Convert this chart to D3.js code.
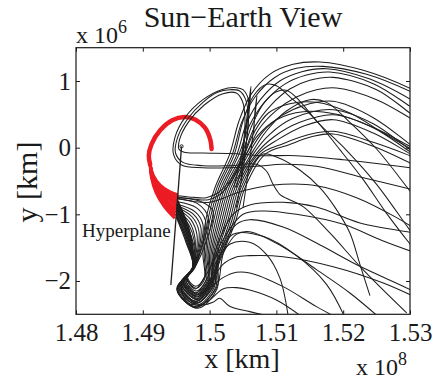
<!DOCTYPE html>
<html>
<head>
<meta charset="utf-8">
<script src="https://cdn.jsdelivr.net/npm/d3@7"></script>
<style>
  body { margin: 0; background: #fff; }
  text { font-family: "Liberation Serif", "Times New Roman", serif; fill: #1a1a1a; }
</style>
</head>
<body>
<div id="chart"></div>
<script>
// axis values: x in 1e8 km, y in 1e6 km
const xTicks = [1.48, 1.49, 1.50, 1.51, 1.52, 1.53];
const xTickLabels = ['1.48', '1.49', '1.5', '1.51', '1.52', '1.53'];
const yTicks = [-2, -1, 0, 1];
const yTickLabels = ['\u22122', '\u22121', '0', '1'];

const earthPoint = [1.4958, 0.02];
const hyperplane = [[1.4958, 0.02], [1.4942, -2.06]];

// red stable manifold: spiral part + fan reaching the hyperplane
const redSpiral = [[1.5003, -0.02], [1.5001, 0.12], [1.4993, 0.30], [1.4979, 0.42], [1.4962, 0.46],
  [1.4944, 0.41], [1.4926, 0.26], [1.4913, 0.05], [1.4909, -0.12], [1.4911, -0.25]];
const redFan = [
  [[1.4911, -0.25], [1.4913, -0.45], [1.4920, -0.68], [1.4932, -0.88], [1.4948, -1.06]],
  [[1.4911, -0.25], [1.4914, -0.45], [1.4921, -0.67], [1.4933, -0.86], [1.4949, -1.02]],
  [[1.4911, -0.25], [1.4914, -0.45], [1.4921, -0.66], [1.4934, -0.84], [1.4949, -0.98]],
  [[1.4911, -0.25], [1.4914, -0.44], [1.4922, -0.65], [1.4935, -0.82], [1.4950, -0.94]],
  [[1.4911, -0.25], [1.4914, -0.44], [1.4922, -0.64], [1.4936, -0.80], [1.4950, -0.91]],
  [[1.4911, -0.25], [1.4915, -0.44], [1.4923, -0.62], [1.4938, -0.77], [1.4951, -0.87]],
  [[1.4911, -0.25], [1.4915, -0.43], [1.4924, -0.61], [1.4939, -0.74], [1.4952, -0.83]],
  [[1.4911, -0.25], [1.4915, -0.43], [1.4924, -0.60], [1.4940, -0.71], [1.4952, -0.79]],
  [[1.4911, -0.25], [1.4915, -0.42], [1.4925, -0.58], [1.4940, -0.68], [1.4953, -0.75]],
  [[1.4911, -0.25], [1.4916, -0.42], [1.4926, -0.56], [1.4940, -0.66], [1.4953, -0.71]]
];

// black trajectories: hyperplane -> loop -> up-right bundle -> arches
const archTrajectories = [
  [[1.4952, -0.78], [1.4971, -1.28], [1.4975, -1.78], [1.4967, -1.95], [1.4979, -2.08], [1.4992, -1.95], [1.4990, -1.60], [1.4994, -1.10], [1.5008, -0.60], [1.5030, -0.10], [1.5044, 0.40], [1.5062, 0.80], [1.5090, 1.10], [1.5125, 1.25], [1.5165, 1.285], [1.5230, 1.16], [1.5300, 0.89], [1.5320, 0.78]],
  [[1.4952, -0.80], [1.4971, -1.29], [1.4975, -1.78], [1.4966, -1.96], [1.4980, -2.11], [1.4993, -1.96], [1.4992, -1.60], [1.4997, -1.10], [1.5011, -0.60], [1.5034, -0.10], [1.5048, 0.38], [1.5068, 0.76], [1.5097, 1.05], [1.5130, 1.19], [1.5170, 1.22], [1.5235, 1.10], [1.5300, 0.845], [1.5320, 0.74]],
  [[1.4952, -0.83], [1.4970, -1.31], [1.4975, -1.79], [1.4962, -1.99], [1.4979, -2.18], [1.4997, -1.99], [1.4996, -1.60], [1.5003, -1.10], [1.5017, -0.60], [1.5041, -0.10], [1.5055, 0.36], [1.5076, 0.72], [1.5105, 1.00], [1.5138, 1.14], [1.5175, 1.185], [1.5240, 1.03], [1.5300, 0.73], [1.5320, 0.60]],
  [[1.4951, -0.85], [1.4970, -1.32], [1.4975, -1.79], [1.4961, -2.01], [1.4980, -2.21], [1.4998, -2.01], [1.4998, -1.60], [1.5006, -1.10], [1.5020, -0.60], [1.5044, -0.10], [1.5060, 0.34], [1.5082, 0.68], [1.5112, 0.95], [1.5145, 1.09], [1.5180, 1.135], [1.5245, 0.96], [1.5300, 0.62], [1.5320, 0.48]],
  [[1.4951, -0.88], [1.4969, -1.34], [1.4975, -1.79], [1.4958, -2.04], [1.4980, -2.27], [1.5001, -2.04], [1.5002, -1.60], [1.5012, -1.10], [1.5026, -0.60], [1.5051, -0.10], [1.5068, 0.32], [1.5092, 0.64], [1.5120, 0.88], [1.5150, 1.01], [1.5185, 1.055], [1.5250, 0.87], [1.5300, 0.52], [1.5320, 0.38]],
  [[1.4951, -0.90], [1.4969, -1.35], [1.4975, -1.79], [1.4956, -2.05], [1.4979, -2.30], [1.5003, -2.05], [1.5004, -1.60], [1.5015, -1.10], [1.5029, -0.60], [1.5055, -0.10], [1.5074, 0.28], [1.5100, 0.56], [1.5130, 0.76], [1.5160, 0.87], [1.5190, 0.895], [1.5250, 0.72], [1.5300, 0.445], [1.5320, 0.32]],
  [[1.4951, -0.91], [1.4968, -1.36], [1.4975, -1.79], [1.4955, -2.07], [1.4980, -2.33], [1.5005, -2.07], [1.5006, -1.60], [1.5018, -1.10], [1.5032, -0.60], [1.5058, -0.10], [1.5080, 0.24], [1.5108, 0.48], [1.5140, 0.63], [1.5185, 0.695], [1.5245, 0.45], [1.5300, 0.05], [1.5320, -0.10]],
  [[1.4951, -0.95], [1.4968, -1.38], [1.4975, -1.80], [1.4952, -2.10], [1.4980, -2.39], [1.5009, -2.10], [1.5010, -1.60], [1.5024, -1.10], [1.5038, -0.60], [1.5065, -0.10], [1.5090, 0.20], [1.5125, 0.44], [1.5185, 0.57], [1.5245, 0.36], [1.5300, -0.03], [1.5320, -0.16]],
  [[1.4950, -0.96], [1.4967, -1.39], [1.4975, -1.80], [1.4951, -2.13], [1.4982, -2.41], [1.5011, -2.12], [1.5012, -1.60], [1.5027, -1.10], [1.5041, -0.60], [1.5069, -0.10], [1.5096, 0.16], [1.5135, 0.38], [1.5185, 0.495], [1.5245, 0.30], [1.5300, -0.06], [1.5320, -0.18]],
  [[1.4950, -0.98], [1.4967, -1.40], [1.4975, -1.80], [1.4957, -2.03], [1.4982, -2.28], [1.5002, -2.03], [1.5014, -1.60], [1.5030, -1.10], [1.5044, -0.60], [1.5072, -0.10], [1.5102, 0.12], [1.5142, 0.33], [1.5185, 0.42], [1.5245, 0.22], [1.5300, -0.09], [1.5320, -0.20]],
  [[1.4950, -1.00], [1.4966, -1.41], [1.4975, -1.80], [1.4954, -2.08], [1.4978, -2.34], [1.5006, -2.08], [1.5016, -1.60], [1.5033, -1.10], [1.5047, -0.60], [1.5076, -0.10], [1.5110, 0.06], [1.5150, 0.20], [1.5185, 0.245], [1.5245, 0.08], [1.5300, -0.12], [1.5320, -0.20]],
  [[1.4950, -1.04], [1.4965, -1.43], [1.4975, -1.80], [1.4951, -2.11], [1.4979, -2.40], [1.5010, -2.11], [1.5020, -1.60], [1.5039, -1.10], [1.5053, -0.60], [1.5083, -0.10], [1.5118, 0.04], [1.5155, 0.17], [1.5185, 0.205], [1.5245, 0.02], [1.5300, -0.23], [1.5320, -0.33]]
];

// trajectories that peak early and fall steeply to the lower right
const steepTrajectories = [
  [[1.4952, -0.81], [1.4970, -1.30], [1.4975, -1.78], [1.4964, -1.98], [1.4980, -2.15], [1.4995, -1.98], [1.4994, -1.60], [1.5000, -1.10], [1.5014, -0.60], [1.5037, -0.10], [1.5050, 0.40], [1.5066, 0.78], [1.5085, 0.95], [1.5100, 0.93], [1.5125, 0.72], [1.5155, 0.46], [1.5195, -0.03], [1.5230, -0.48], [1.5266, -1.00], [1.5320, -1.70]],
  [[1.4951, -0.86], [1.4969, -1.33], [1.4975, -1.79], [1.4959, -2.02], [1.4981, -2.24], [1.4999, -2.02], [1.5000, -1.60], [1.5009, -1.10], [1.5023, -0.60], [1.5048, -0.10], [1.5064, 0.35], [1.5082, 0.68], [1.5100, 0.84], [1.5115, 0.86], [1.5135, 0.70], [1.5160, 0.40], [1.5205, -0.04], [1.5250, -0.55], [1.5300, -1.24], [1.5320, -1.50]],
  [[1.4951, -0.93], [1.4968, -1.37], [1.4975, -1.80], [1.4953, -2.09], [1.4981, -2.36], [1.5007, -2.09], [1.5008, -1.60], [1.5021, -1.10], [1.5035, -0.60], [1.5062, -0.10], [1.5085, 0.25], [1.5115, 0.55], [1.5150, 0.72], [1.5175, 0.68], [1.5210, 0.38], [1.5250, -0.02], [1.5300, -0.65], [1.5320, -0.90]],
  [[1.4950, -1.02], [1.4966, -1.42], [1.4975, -1.80], [1.4960, -2.00], [1.4978, -2.22], [1.4999, -2.00], [1.5018, -1.60], [1.5036, -1.10], [1.5050, -0.60], [1.5079, -0.10], [1.5100, -0.14], [1.5135, -0.335], [1.5165, -0.60], [1.5188, -0.90], [1.5210, -1.28], [1.5225, -1.75], [1.5240, -2.22]]
];

// trajectories sweeping right across the fan, looping, then heading lower right
const lowTrajectories = [
  [[1.4952, -0.75], [1.4985, -0.80], [1.5005, -0.95], [1.4995, -1.40], [1.4978, -1.80], [1.4965, -2.00], [1.4983, -2.20], [1.5001, -2.00], [1.5006, -1.70], [1.5025, -1.30], [1.5050, -1.00], [1.5080, -0.95], [1.5130, -1.00], [1.5200, -1.15], [1.5260, -1.40], [1.5320, -1.62]],
  [[1.4952, -0.77], [1.4982, -0.84], [1.4998, -1.05], [1.4990, -1.45], [1.4977, -1.80], [1.4963, -2.00], [1.4979, -2.18], [1.4996, -1.97], [1.5004, -1.70], [1.5016, -1.35], [1.5035, -1.00], [1.5060, -0.86], [1.5110, -0.82], [1.5160, -0.89], [1.5225, -1.13], [1.5300, -1.27], [1.5320, -1.32]],
  [[1.4952, -0.81], [1.4980, -0.90], [1.4994, -1.10], [1.4988, -1.48], [1.4977, -1.80], [1.4966, -1.97], [1.4979, -2.12], [1.4992, -1.95], [1.5002, -1.78], [1.5020, -1.45], [1.5040, -1.15], [1.5060, -1.08], [1.5110, -1.19], [1.5160, -1.43], [1.5225, -1.78], [1.5300, -2.13], [1.5320, -2.25]],
  [[1.4951, -0.85], [1.4978, -0.96], [1.4990, -1.15], [1.4986, -1.50], [1.4976, -1.80], [1.4955, -2.07], [1.4982, -2.33], [1.5004, -2.06], [1.5010, -1.85], [1.5022, -1.55], [1.5040, -1.30], [1.5060, -1.26], [1.5110, -1.49], [1.5160, -1.83], [1.5210, -2.18], [1.5260, -2.60]],
  [[1.4951, -0.87], [1.4976, -1.00], [1.4987, -1.20], [1.4984, -1.52], [1.4976, -1.80], [1.4958, -2.04], [1.4982, -2.26], [1.5000, -2.05], [1.5020, -1.75], [1.5040, -1.64], [1.5060, -1.62], [1.5110, -1.635], [1.5185, -1.785], [1.5260, -2.03], [1.5320, -2.30]],
  [[1.4951, -0.89], [1.4974, -1.04], [1.4984, -1.25], [1.4982, -1.55], [1.4976, -1.80], [1.4961, -2.01], [1.4981, -2.20], [1.5000, -2.10], [1.5020, -1.95], [1.5040, -1.87], [1.5060, -1.88], [1.5110, -2.085], [1.5160, -2.385], [1.5200, -2.60]],
  [[1.4951, -0.91], [1.4972, -1.08], [1.4981, -1.30], [1.4980, -1.58], [1.4975, -1.80], [1.4952, -2.12], [1.4975, -2.38], [1.4998, -2.30], [1.5020, -2.12], [1.5040, -2.10], [1.5060, -2.135], [1.5100, -2.285], [1.5140, -2.55]],
  [[1.4951, -0.93], [1.4970, -1.12], [1.4978, -1.35], [1.4978, -1.60], [1.4975, -1.80], [1.4958, -2.10], [1.4968, -2.33], [1.4990, -2.36], [1.5005, -2.32], [1.5015, -2.26], [1.5030, -2.38], [1.5060, -2.46], [1.5090, -2.53]],
  [[1.4951, -0.94], [1.4969, -1.16], [1.4977, -1.40], [1.4976, -1.80], [1.4960, -2.03], [1.4981, -2.23], [1.5001, -2.02], [1.5008, -1.75], [1.5030, -1.45], [1.5060, -1.42], [1.5085, -1.60], [1.5105, -1.95], [1.5118, -2.55]],
  [[1.4950, -0.97], [1.4967, -1.20], [1.4976, -1.45], [1.4976, -1.80], [1.4957, -2.06], [1.4980, -2.31], [1.5003, -2.05], [1.5012, -1.70], [1.5035, -1.30], [1.5080, -1.33], [1.5130, -1.62], [1.5175, -2.05], [1.5205, -2.60]]
];

// top of the fan: leave the hyperplane to the right without looping
const fanTopTrajectories = [
  [[1.4953, -0.72], [1.4975, -0.745], [1.4995, -0.75], [1.5012, -0.68], [1.5030, -0.50], [1.5048, -0.20], [1.5066, 0.22], [1.5088, 0.52], [1.5120, 0.66], [1.5160, 0.68], [1.5210, 0.52], [1.5260, 0.22], [1.5300, -0.01], [1.5320, -0.12]],
  [[1.4952, -0.74], [1.4976, -0.77], [1.4998, -0.78], [1.5016, -0.70], [1.5034, -0.48], [1.5052, -0.15], [1.5072, 0.18], [1.5100, 0.42], [1.5140, 0.54], [1.5190, 0.50], [1.5250, 0.28], [1.5300, 0.02], [1.5320, -0.08]],
  [[1.4952, -0.76], [1.4978, -0.81], [1.5000, -0.82], [1.5020, -0.76], [1.5040, -0.68], [1.5070, -0.60], [1.5110, -0.55], [1.5160, -0.57], [1.5220, -0.75], [1.5280, -1.05], [1.5320, -1.30]]
];

// loops around the Earth and the cusps above them
const upperLoops = [
  [[1.5040, -0.60], [1.5052, -0.10], [1.5058, 0.40], [1.5054, 0.72], [1.5045, 0.85], [1.5030, 0.87], [1.5012, 0.83], [1.4990, 0.68], [1.4967, 0.43], [1.4952, 0.15], [1.4949, -0.08], [1.4960, -0.22], [1.4990, -0.27], [1.5030, -0.27], [1.5070, -0.25], [1.5085, -0.35], [1.5095, -0.55], [1.5105, -0.70], [1.5115, -0.76], [1.5140, -0.885], [1.5180, -1.28], [1.5230, -1.835], [1.5295, -2.48]],
  [[1.5036, -0.60], [1.5048, -0.10], [1.5053, 0.40], [1.5049, 0.70], [1.5040, 0.82], [1.5020, 0.81], [1.4992, 0.64], [1.4968, 0.38], [1.4955, 0.12], [1.4954, -0.02], [1.4962, -0.07], [1.4990, -0.08], [1.5040, -0.09], [1.5080, -0.12], [1.5130, -0.12], [1.5200, -0.18], [1.5300, -0.30]],
  [[1.5044, -0.30], [1.5055, 0.30], [1.5058, 0.72], [1.5050, 0.87], [1.5040, 0.90], [1.5018, 0.87], [1.4990, 0.72], [1.4963, 0.45], [1.4948, 0.15], [1.4946, -0.10], [1.4958, -0.26], [1.4990, -0.30], [1.5030, -0.30], [1.5070, -0.28], [1.5110, -0.25], [1.5160, -0.28], [1.5230, -0.45], [1.5300, -0.62]],
  [[1.5040, -0.90], [1.5052, -0.20], [1.5058, 0.40], [1.5062, 0.92], [1.5059, 0.70], [1.5054, 0.30], [1.5050, -0.10], [1.5047, -0.50]],
  [[1.5050, -0.90], [1.5060, -0.20], [1.5066, 0.30], [1.5071, 0.78], [1.5068, 0.55], [1.5066, 0.20]]
];

const margin = { left: 76, right: 410, top: 47.7, bottom: 314.3 };
const width = 433, height = 382;

const x = d3.scaleLinear().domain([1.48, 1.53]).range([margin.left, margin.right]);
const y = d3.scaleLinear().domain([-2.5, 1.5]).range([margin.bottom, margin.top]);

const line = d3.line()
  .x((d) => x(d[0]))
  .y((d) => y(d[1]))
  .curve(d3.curveCatmullRom.alpha(0.5));

const svg = d3.select('#chart')
  .append('svg')
    .attr('width', width)
    .attr('height', height);

svg.append('clipPath')
    .attr('id', 'plot-clip')
  .append('rect')
    .attr('x', margin.left)
    .attr('y', margin.top)
    .attr('width', margin.right - margin.left)
    .attr('height', margin.bottom - margin.top);

const plot = svg.append('g').attr('clip-path', 'url(#plot-clip)');

// red manifold
plot.append('path')
  .datum(redSpiral)
  .attr('fill', 'none')
  .attr('stroke', '#ec1c24')
  .attr('stroke-width', 4.5)
  .attr('stroke-linecap', 'round')
  .attr('d', line);

plot.selectAll('.red-fan')
  .data(redFan)
  .enter().append('path')
    .attr('class', 'red-fan')
    .attr('fill', 'none')
    .attr('stroke', '#ec1c24')
    .attr('stroke-width', 3)
    .attr('d', line);

// black trajectories
const blackSets = [archTrajectories, steepTrajectories, lowTrajectories, fanTopTrajectories, upperLoops];
blackSets.forEach((set) => {
  plot.append('g')
    .selectAll('path')
    .data(set)
    .enter().append('path')
      .attr('fill', 'none')
      .attr('stroke', '#1e1e1e')
      .attr('stroke-width', 1.05)
      .attr('d', line);
});

// hyperplane
plot.append('path')
  .datum(hyperplane)
  .attr('fill', 'none')
  .attr('stroke', '#1e1e1e')
  .attr('stroke-width', 1.3)
  .attr('d', d3.line().x((d) => x(d[0])).y((d) => y(d[1])));

plot.append('circle')
  .attr('cx', x(earthPoint[0]))
  .attr('cy', y(earthPoint[1]))
  .attr('r', 1.6)
  .attr('fill', 'none')
  .attr('stroke', '#1e1e1e')
  .attr('stroke-width', 1);

// axes box with inward ticks
svg.append('rect')
  .attr('x', margin.left)
  .attr('y', margin.top)
  .attr('width', margin.right - margin.left)
  .attr('height', margin.bottom - margin.top)
  .attr('fill', 'none')
  .attr('stroke', '#1a1a1a')
  .attr('stroke-width', 1.2);

const fmtX = (d, i) => xTickLabels[i];
const fmtY = (d, i) => yTickLabels[i];

svg.append('g')
  .attr('transform', `translate(0, ${margin.bottom})`)
  .call(d3.axisBottom(x).tickValues(xTicks).tickFormat(fmtX).tickSize(-4).tickPadding(9));
svg.append('g')
  .attr('transform', `translate(0, ${margin.top})`)
  .call(d3.axisTop(x).tickValues(xTicks).tickFormat('').tickSize(-4));
svg.append('g')
  .attr('transform', `translate(${margin.left}, 0)`)
  .call(d3.axisLeft(y).tickValues(yTicks).tickFormat(fmtY).tickSize(-4).tickPadding(5));
svg.append('g')
  .attr('transform', `translate(${margin.right}, 0)`)
  .call(d3.axisRight(y).tickValues(yTicks).tickFormat('').tickSize(-4));

svg.selectAll('.domain').remove();
svg.selectAll('.tick line').attr('stroke', '#1a1a1a').attr('stroke-width', 1);
svg.selectAll('.tick text')
  .attr('font-family', '"Liberation Serif", "Times New Roman", serif')
  .attr('font-size', 25)
  .attr('fill', '#1a1a1a');

// title and labels
svg.append('text')
  .attr('x', 243)
  .attr('y', 27)
  .attr('text-anchor', 'middle')
  .attr('font-size', 30)
  .text('Sun\u2212Earth View');

svg.append('text')
  .attr('x', 242)
  .attr('y', 368)
  .attr('text-anchor', 'middle')
  .attr('font-size', 28)
  .text('x [km]');

svg.append('text')
  .attr('transform', 'translate(37, 182) rotate(-90)')
  .attr('text-anchor', 'middle')
  .attr('font-size', 30)
  .text('y [km]');

const yExp = svg.append('text').attr('x', 76).attr('y', 43).attr('font-size', 24);
yExp.append('tspan').text('x 10');
yExp.append('tspan').attr('dy', -10).attr('font-size', 18).text('6');

const xExp = svg.append('text').attr('x', 356).attr('y', 375).attr('font-size', 24);
xExp.append('tspan').text('x 10');
xExp.append('tspan').attr('dy', -10).attr('font-size', 18).text('8');

svg.append('text')
  .attr('x', 82)
  .attr('y', 237)
  .attr('font-size', 19)
  .text('Hyperplane');
</script>
</body>
</html>
